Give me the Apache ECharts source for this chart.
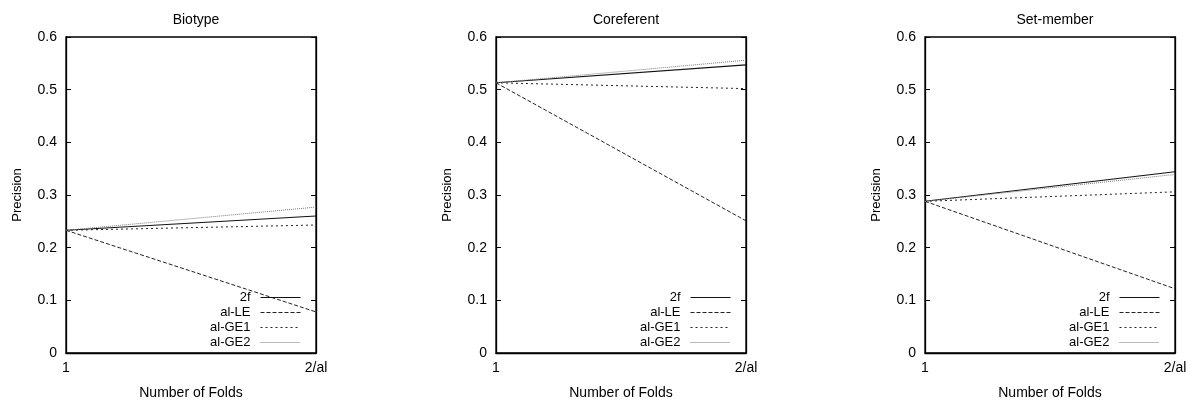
<!DOCTYPE html>
<html>
<head>
<meta charset="utf-8">
<script src="https://cdn.jsdelivr.net/npm/echarts@6/dist/echarts.min.js"></script>
<style>
  html, body { margin: 0; padding: 0; background: #fff; }
  #chart { width: 1195px; height: 401px; }
</style>
</head>
<body>
<div id="chart"></div>
<script>
// data
var folds = ['1', '2/al'];
var panelTitles = ['Biotype', 'Coreferent', 'Set-member'];
var seriesNames = ['2f', 'al-LE', 'al-GE1', 'al-GE2'];

var biotype2f    = [0.233, 0.260];
var biotypeLE    = [0.233, 0.078];
var biotypeGE1   = [0.233, 0.243];
var biotypeGE2   = [0.233, 0.277];

var coref2f      = [0.513, 0.547];
var corefLE      = [0.513, 0.251];
var corefGE1     = [0.513, 0.502];
var corefGE2     = [0.513, 0.556];

var setmem2f     = [0.288, 0.344];
var setmemLE     = [0.288, 0.122];
var setmemGE1    = [0.288, 0.306];
var setmemGE2    = [0.288, 0.339];

var panelData = [
  [biotype2f, biotypeLE, biotypeGE1, biotypeGE2],
  [coref2f, corefLE, corefGE1, corefGE2],
  [setmem2f, setmemLE, setmemGE1, setmemGE2]
];

var FONT = '"Liberation Sans", Arial, sans-serif';
var lefts = [66, 496, 925];
var plotW = 250, plotTop = 37, plotH = 316;

var styles = [
  {color: '#111', width: 1.1, type: 'solid'},
  {color: '#222', width: 1, type: [4, 2]},
  {color: '#222', width: 1, type: [2, 3]},
  {color: '#777', width: 1, type: [1, 1]}
];

var grids = [], xAxes = [], yAxes = [], series = [], titles = [], legends = [];

lefts.forEach(function(left, p){
  grids.push({
    left: left, top: plotTop, width: plotW, height: plotH,
    outerBoundsMode: 'none', containLabel: false,
    show: true, borderColor: '#000', borderWidth: 1.3, backgroundColor: 'transparent'
  });
  xAxes.push({
    type: 'category', gridIndex: p, data: folds, boundaryGap: false,
    name: 'Number of Folds', nameLocation: 'middle', nameGap: 33,
    nameTextStyle: {fontFamily: FONT, fontSize: 14, color: '#000'},
    axisLine: {lineStyle: {color: '#000', width: 1.3}},
    axisTick: {show: false},
    axisLabel: {fontFamily: FONT, fontSize: 14, color: '#000', margin: 8},
    splitLine: {show: false}
  });
  yAxes.push({
    type: 'value', gridIndex: p, min: 0, max: 0.6, interval: 0.1,
    name: 'Precision', nameLocation: 'middle', nameGap: 42, nameRotate: 90,
    nameTextStyle: {fontFamily: FONT, fontSize: 13, color: '#000'},
    axisLine: {show: true, lineStyle: {color: '#000', width: 1.3}},
    axisTick: {show: true, inside: true, length: 5, lineStyle: {color: '#000'}},
    axisLabel: {fontFamily: FONT, fontSize: 14, color: '#000', margin: 9},
    splitLine: {show: false}
  });
  // mirrored ticks on the right border
  yAxes.push({
    type: 'value', gridIndex: p, min: 0, max: 0.6, interval: 0.1, position: 'right',
    axisLine: {show: true, lineStyle: {color: '#000', width: 1.3}},
    axisTick: {show: true, inside: true, length: 5, lineStyle: {color: '#000'}},
    axisLabel: {show: false},
    splitLine: {show: false}
  });
  titles.push({
    text: panelTitles[p], left: left + plotW / 2, top: 8, textAlign: 'center',
    textStyle: {fontFamily: FONT, fontSize: 14, fontWeight: 'normal', color: '#000'}
  });
  legends.push({
    orient: 'vertical', align: 'right', right: 1195 - (left + plotW - 15), top: 291,
    padding: 0, itemWidth: 40, itemHeight: 12, itemGap: 2,
    data: seriesNames, selectedMode: false,
    itemStyle: {opacity: 0},
    lineStyle: {width: 1},
    textStyle: {fontFamily: FONT, fontSize: 13, color: '#000', padding: [0, 5, 0, 0]}
  });
  panelData[p].forEach(function(vals, i){
    series.push({
      name: seriesNames[i], type: 'line', xAxisIndex: p, yAxisIndex: p * 2,
      data: vals, symbol: 'none', animation: false, silent: true,
      color: styles[i].color,
      lineStyle: {color: styles[i].color, width: styles[i].width, type: styles[i].type}
    });
  });
});

var myChart = echarts.init(document.getElementById('chart'));
myChart.setOption({
  animation: false,
  title: titles,
  legend: legends,
  grid: grids,
  xAxis: xAxes,
  yAxis: yAxes,
  series: series
});
</script>
</body>
</html>
